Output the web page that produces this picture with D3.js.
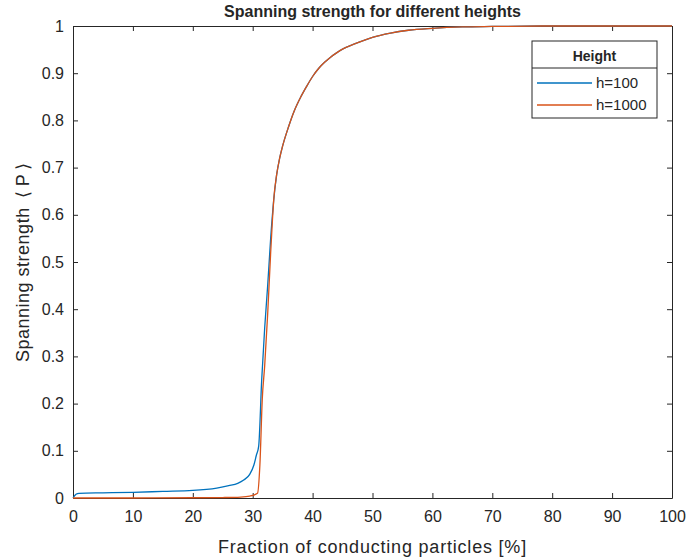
<!DOCTYPE html>
<html>
<head>
<meta charset="utf-8">
<script src="https://cdn.jsdelivr.net/npm/d3@7"></script>
<style>
  body { margin: 0; background: #fff; }
  text { font-family: "Liberation Sans", Arial, sans-serif; fill: #262626; }
</style>
</head>
<body>
<svg id="chart"></svg>
<script>
// Data
const seriesNames = ["h=100", "h=1000"];
const xTicks = [0, 10, 20, 30, 40, 50, 60, 70, 80, 90, 100];
const yTicks = [0, 0.1, 0.2, 0.3, 0.4, 0.5, 0.6, 0.7, 0.8, 0.9, 1];

const h100X = [0, 0.5, 1, 5, 10, 15, 20, 24, 26, 27.5, 28.5, 29.5, 30.2, 30.6, 31, 31.5, 32, 32.5, 33, 33.5, 34, 34.5, 35, 36, 37, 38, 39, 40, 41, 42, 43, 44, 45, 47, 50, 53, 56, 60, 65, 70, 80, 100];
const h100P = [0, 0.008, 0.01, 0.011, 0.012, 0.014, 0.016, 0.021, 0.026, 0.031, 0.038, 0.05, 0.07, 0.09, 0.11, 0.25, 0.36, 0.45, 0.55, 0.63, 0.685, 0.72, 0.746, 0.787, 0.822, 0.849, 0.872, 0.893, 0.91, 0.923, 0.934, 0.943, 0.951, 0.962, 0.976, 0.985, 0.991, 0.995, 0.998, 0.999, 1, 1];

const h1000X = [0, 10, 20, 25, 28, 29.5, 30.8, 31.2, 31.6, 32, 32.5, 33, 33.3, 33.5, 34, 34.5, 35, 36, 37, 38, 39, 40, 41, 42, 43, 44, 45, 47, 50, 53, 56, 60, 65, 70, 80, 100];
const h1000P = [0, 0, 0.0005, 0.001, 0.002, 0.004, 0.01, 0.07, 0.21, 0.28, 0.39, 0.52, 0.59, 0.63, 0.685, 0.72, 0.746, 0.787, 0.822, 0.849, 0.872, 0.893, 0.91, 0.923, 0.934, 0.943, 0.951, 0.962, 0.976, 0.985, 0.991, 0.995, 0.998, 0.999, 1, 1];

const colors = ["#0072BD", "#D95319"];

const width = 689;
const height = 559;
const margin = { top: 26, right: 17, bottom: 61, left: 73 };
const plotW = width - margin.left - margin.right;
const plotH = height - margin.top - margin.bottom;

const svg = d3.select("#chart").attr("width", width).attr("height", height);
const g = svg.append("g").attr("transform", `translate(${margin.left},${margin.top})`);

const x = d3.scaleLinear().domain([0, 100]).range([0, plotW]);
const y = d3.scaleLinear().domain([0, 1]).range([plotH, 0]);

// axes, ticks pointing inward on all sides
const tickLen = 5;
const fmt = (d) => d3.format("")(+d.toFixed(1));

const xAxis = g.append("g").attr("transform", `translate(0,${plotH})`)
  .call(d3.axisBottom(x).tickValues(xTicks).tickSizeInner(-tickLen).tickSizeOuter(0).tickPadding(13).tickFormat(fmt));
const yAxis = g.append("g")
  .call(d3.axisLeft(y).tickValues(yTicks).tickSizeInner(-tickLen).tickSizeOuter(0).tickPadding(9).tickFormat(fmt));
const xTop = g.append("g")
  .call(d3.axisTop(x).tickValues(xTicks).tickSizeInner(-tickLen).tickSizeOuter(0).tickFormat(""));
const yRight = g.append("g").attr("transform", `translate(${plotW},0)`)
  .call(d3.axisRight(y).tickValues(yTicks).tickSizeInner(-tickLen).tickSizeOuter(0).tickFormat(""));

[xAxis, yAxis, xTop, yRight].forEach((a) => {
  a.select(".domain").attr("stroke", "#262626");
  a.selectAll(".tick line").attr("stroke", "#262626");
  a.selectAll("text").style("font-size", "16px").attr("fill", "#262626");
});

// lines
const line = d3.line()
  .x((d) => x(d[0]))
  .y((d) => y(d[1]))
  .curve(d3.curveMonotoneX);
const seriesData = [
  d3.zip(h100X, h100P),
  d3.zip(h1000X, h1000P),
];
seriesData.forEach((pts, i) => {
  g.append("path")
    .datum(pts)
    .attr("fill", "none")
    .attr("stroke", colors[i])
    .attr("stroke-width", 1.3)
    .attr("d", line);
});

// title and axis labels
svg.append("text")
  .attr("x", margin.left + plotW / 2)
  .attr("y", 17)
  .attr("text-anchor", "middle")
  .style("font-size", "16px")
  .style("font-weight", "bold")
  .attr("fill", "#000")
  .text("Spanning strength for different heights");

svg.append("text")
  .attr("x", margin.left + plotW / 2)
  .attr("y", 553)
  .attr("text-anchor", "middle")
  .style("font-size", "18px")
  .style("letter-spacing", "0.8px")
  .text("Fraction of conducting particles [%]");

svg.append("text")
  .attr("transform", `translate(29,${margin.top + plotH / 2}) rotate(-90)`)
  .attr("text-anchor", "middle")
  .style("font-size", "18px")
  .style("letter-spacing", "0.5px")
  .text("Spanning strength \u2009\u27E8\u2009P\u2009\u27E9");

// legend
const legend = svg.append("g").attr("transform", "translate(532,41)");
legend.append("rect")
  .attr("width", 125).attr("height", 77)
  .attr("fill", "#fff").attr("stroke", "#262626").attr("stroke-width", 1);
legend.append("line")
  .attr("x1", 0).attr("x2", 125).attr("y1", 27).attr("y2", 27)
  .attr("stroke", "#262626");
legend.append("text")
  .attr("x", 62.5).attr("y", 20)
  .attr("text-anchor", "middle")
  .style("font-size", "14px").style("font-weight", "bold")
  .attr("fill", "#000")
  .text("Height");
seriesNames.forEach((name, i) => {
  const yy = 42 + i * 22;
  legend.append("line")
    .attr("x1", 5).attr("x2", 60).attr("y1", yy).attr("y2", yy)
    .attr("stroke", colors[i]).attr("stroke-width", 1.3);
  legend.append("text")
    .attr("x", 64).attr("y", yy + 5)
    .style("font-size", "15px")
    .text(name);
});
</script>
</body>
</html>
